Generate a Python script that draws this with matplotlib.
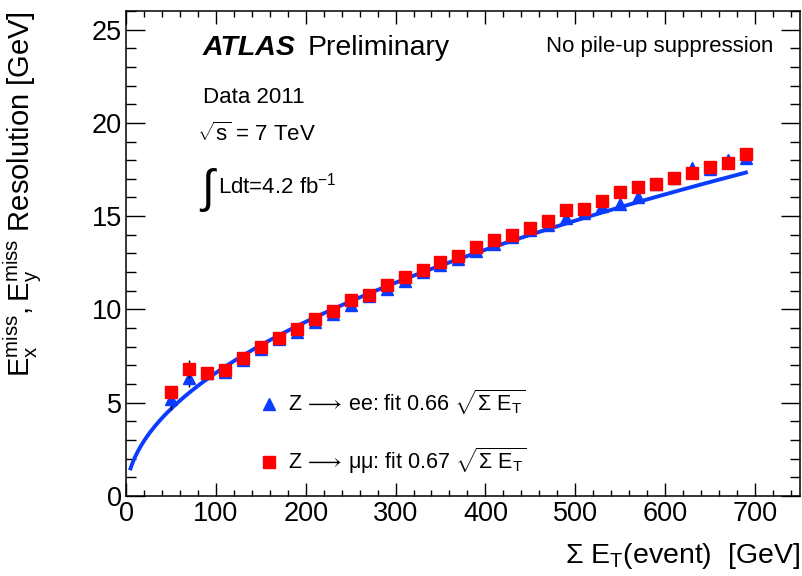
import numpy as np
import matplotlib
matplotlib.use('Agg')
import matplotlib.pyplot as plt
from matplotlib.ticker import MultipleLocator
from matplotlib.lines import Line2D

plt.rcParams['font.family'] = ['Liberation Sans', 'DejaVu Sans']
plt.rcParams['mathtext.fontset'] = 'custom'
plt.rcParams['mathtext.rm'] = 'Liberation Sans'
plt.rcParams['mathtext.it'] = 'Liberation Sans'
plt.rcParams['mathtext.bf'] = 'Liberation Sans:bold'

# sum E_T bin centres [GeV]
sumet = [50, 70, 90, 110, 130, 150, 170, 190, 210, 230, 250, 270, 290, 310, 330,
         350, 370, 390, 410, 430, 450, 470, 490, 510, 530, 550, 570, 590, 610,
         630, 650, 670, 690]

# Z -> ee resolution [GeV]
res_ee = [5.2, 6.33, 6.6, 6.65, 7.3, 7.9, 8.4, 8.8, 9.33, 9.76, 10.25, 10.73,
          11.1, 11.53, 12.0, 12.4, 12.7, 13.14, 13.5, 13.9, 14.27, 14.54, 14.9,
          15.18, 15.56, 15.66, 16.04, 16.7, 17.06, 17.6, 17.5, 18.0, 18.13]
err_ee = [0.6, 0.5, 0.2, 0.15, 0.1, 0.1, 0.1, 0.1, 0.1, 0.1, 0.1, 0.1, 0.1,
          0.1, 0.1, 0.1, 0.1, 0.1, 0.1, 0.1, 0.1, 0.1, 0.1, 0.1, 0.1, 0.1,
          0.1, 0.1, 0.1, 0.1, 0.1, 0.1, 0.1]

# Z -> mumu resolution [GeV]
res_mm = [5.58, 6.81, 6.6, 6.76, 7.4, 8.0, 8.48, 8.96, 9.5, 9.92, 10.5, 10.78,
          11.32, 11.75, 12.12, 12.55, 12.88, 13.36, 13.73, 14.0, 14.38, 14.75,
          15.34, 15.4, 15.83, 16.3, 16.58, 16.74, 17.06, 17.33, 17.65, 17.86, 18.35]
err_mm = [0.3, 0.5, 0.2, 0.15, 0.1, 0.1, 0.1, 0.1, 0.1, 0.1, 0.1, 0.1, 0.1,
          0.1, 0.1, 0.1, 0.1, 0.1, 0.1, 0.1, 0.1, 0.1, 0.1, 0.1, 0.1, 0.1,
          0.1, 0.1, 0.1, 0.1, 0.1, 0.1, 0.1]

# fit coefficient: resolution = k * sqrt(sum E_T)
fit_ee = 0.66
fit_mm = 0.67
fit_range = (5, 690)

BLUE = '#0a3cff'
RED = '#ff0000'

fig = plt.figure(figsize=(8.03, 5.76), dpi=100)
ax = fig.add_axes([0.157, 0.139, 0.839, 0.842])

xs = np.linspace(fit_range[0], fit_range[1], 400)
ax.plot(xs, fit_ee * np.sqrt(xs), color=BLUE, lw=2.8, zorder=2)

ax.errorbar(sumet, res_ee, yerr=err_ee, fmt='^', color=BLUE, ecolor='black',
            elinewidth=1.0, capsize=0, markersize=8, zorder=3)
ax.errorbar(sumet, res_mm, yerr=err_mm, fmt='s', color=RED, ecolor='black',
            elinewidth=1.0, capsize=0, markersize=8, zorder=4)

ax.set_xlim(0, 750)
ax.set_ylim(0, 26)
ax.xaxis.set_major_locator(MultipleLocator(100))
ax.xaxis.set_minor_locator(MultipleLocator(20))
ax.yaxis.set_major_locator(MultipleLocator(5))
ax.yaxis.set_minor_locator(MultipleLocator(1))
ax.tick_params(axis='both', which='both', direction='in', top=True, right=True,
               labelsize=19.5, width=1.0)
ax.tick_params(axis='x', which='major', length=9.5, pad=4)
ax.tick_params(axis='x', which='minor', length=4.5)
ax.tick_params(axis='y', which='major', length=14, pad=3)
ax.tick_params(axis='y', which='minor', length=7)
for sp in ax.spines.values():
    sp.set_linewidth(1.1)

ax.set_xlabel(r'$\Sigma$ E$_\mathregular{T}$(event)  [GeV]', fontsize=20.5,
              loc='right', labelpad=10)
ax.set_ylabel(r'$\mathregular{E_x^{miss},E_y^{miss}}$ Resolution [GeV]',
              fontsize=21, loc='top', labelpad=34)

ax.text(0.114, 0.909, 'ATLAS', transform=ax.transAxes, fontsize=20.5,
        fontweight='bold', style='italic')
ax.text(0.269, 0.909, 'Preliminary', transform=ax.transAxes, fontsize=20.5)
ax.text(0.961, 0.915, 'No pile-up suppression', transform=ax.transAxes,
        fontsize=16, ha='right')
ax.text(0.114, 0.81, 'Data 2011', transform=ax.transAxes, fontsize=16)
ax.text(0.106, 0.732, r'$\sqrt{s}$ = 7 TeV', transform=ax.transAxes, fontsize=16)
ax.text(0.108, 0.607, r'$\int$', transform=ax.transAxes, fontsize=33,
        family='DejaVu Sans')
ax.text(0.136, 0.623, r'Ldt=4.2 fb$^{-1}$', transform=ax.transAxes, fontsize=16)

handles = [Line2D([], [], ls='none', marker='^', color=BLUE, markersize=8),
           Line2D([], [], ls='none', marker='s', color=RED, markersize=8)]
labels = [r'Z$\,\longrightarrow\,$ee: fit %.2f $\sqrt{\Sigma\ \mathregular{E_T}}$' % fit_ee,
          r'Z$\,\longrightarrow\,\mu\mu$: fit %.2f $\sqrt{\Sigma\ \mathregular{E_T}}$' % fit_mm]
ax.legend(handles, labels, loc='upper left', bbox_to_anchor=(0.186, 0.24),
          frameon=False, fontsize=15.5, handlelength=0.8, handletextpad=0.5,
          labelspacing=1.3, borderaxespad=0)

fig.savefig('out.png', dpi=100)
